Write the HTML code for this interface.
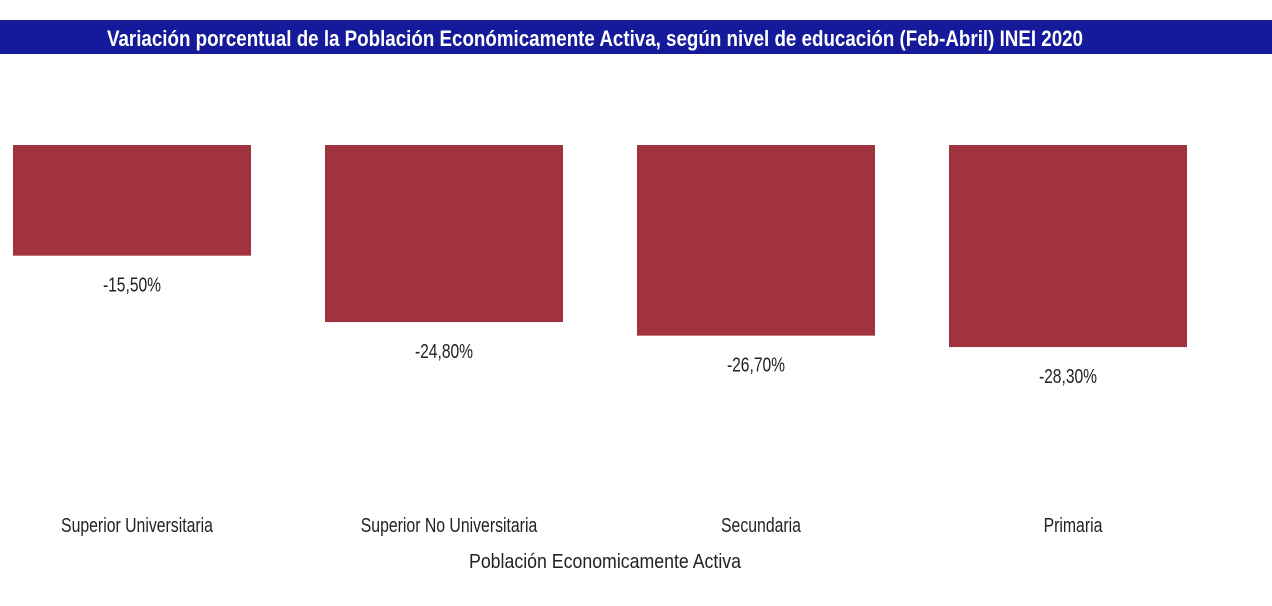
<!DOCTYPE html>
<html><head><meta charset="utf-8"><style>
html,body{margin:0;padding:0;background:#fff;}
svg{display:block;font-family:"Liberation Sans Narrow","Liberation Sans",sans-serif;}
</style></head><body>
<svg id="chart" width="1272" height="606" viewBox="0 0 1272 606">
<rect x="0" y="20" width="1272" height="34" fill="#141a9a"/>
<text x="595" y="46" text-anchor="middle" fill="#fff" font-size="22" font-weight="bold" textLength="976" lengthAdjust="spacingAndGlyphs">Variación porcentual de la Población Económicamente Activa, según nivel de educación (Feb-Abril) INEI 2020</text>
<g id="bars"></g>
<text x="605" y="568" text-anchor="middle" font-size="20" fill="#222" textLength="272" lengthAdjust="spacingAndGlyphs">Población Economicamente Activa</text>
</svg>
<script>
const categories = ["Superior Universitaria","Superior No Universitaria","Secundaria","Primaria"];
const values = [-15.5, -24.8, -26.7, -28.3];
const valueLabels = ["-15,50%","-24,80%","-26,70%","-28,30%"];
const NS="http://www.w3.org/2000/svg";
const g=document.getElementById('bars');
const zeroY=145, pxPer=7.14, x0=13, pitch=312, bw=238;
function yScale(v){return zeroY+(-v)*pxPer;}
function condense(t,f){const w=t.getComputedTextLength();t.setAttribute('textLength',w*f);t.setAttribute('lengthAdjust','spacingAndGlyphs');}
categories.forEach((c,i)=>{
  const x=x0+i*pitch, yb=yScale(values[i]);
  const r=document.createElementNS(NS,'rect');
  r.setAttribute('x',x);r.setAttribute('y',zeroY);r.setAttribute('width',bw);r.setAttribute('height',yb-zeroY);r.setAttribute('fill','#a0333d');
  
  
  g.appendChild(r);
  const t=document.createElementNS(NS,'text');
  t.setAttribute('x',x+bw/2);t.setAttribute('y',yb+36);t.setAttribute('text-anchor','middle');t.setAttribute('font-size','20');t.setAttribute('fill','#222');
  t.textContent=valueLabels[i];
  
  
  g.appendChild(t);
  condense(t,0.78);
  const l=document.createElementNS(NS,'text');
  l.setAttribute('x',x+bw/2+5);l.setAttribute('y',532);l.setAttribute('text-anchor','middle');l.setAttribute('font-size','20');l.setAttribute('fill','#222');
  l.textContent=c;
  
  
  g.appendChild(l);
  condense(l,0.79);
});
</script>
</body></html>
